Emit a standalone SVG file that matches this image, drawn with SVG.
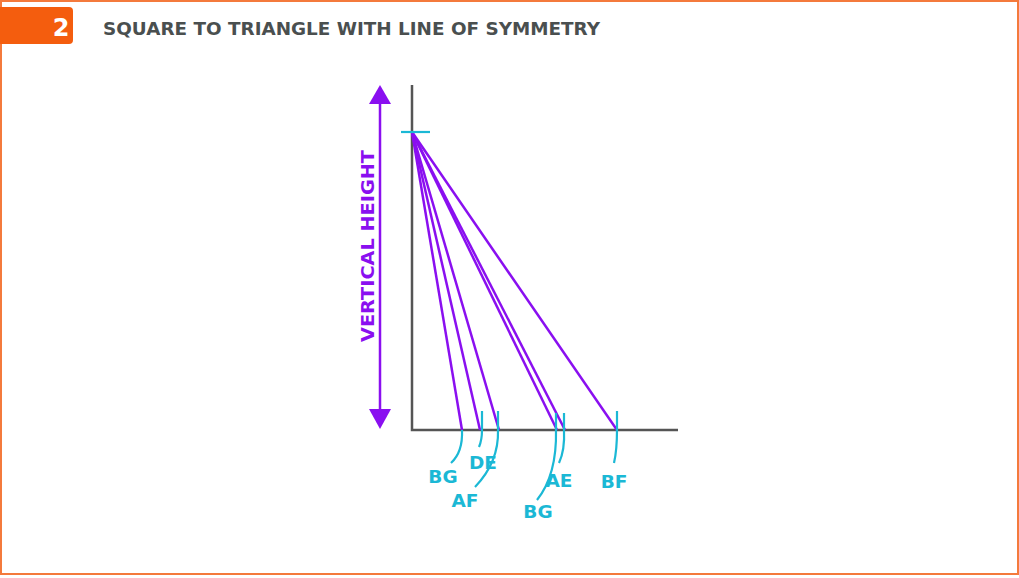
<svg xmlns="http://www.w3.org/2000/svg" width="1019" height="578" viewBox="0 0 1019 578">
<style>
.lbl{font-family:"DejaVu Sans","Liberation Sans",sans-serif;font-weight:bold;font-size:18.5px;fill:#1bb8d5;text-anchor:middle}
.cy{stroke:#1bb8d5;stroke-width:2.2;fill:none}
.pu{stroke:#8a0ff0;stroke-width:2.5;fill:none}
</style>
<rect x="1" y="1" width="1017" height="573" fill="#fff" stroke="#f47a3c" stroke-width="2"/>
<g id="header">
<path d="M0,7 H69 a4,4 0 0 1 4,4 V40 a4,4 0 0 1 -4,4 H0 z" fill="#f45d0e"/>
<text x="61" y="36" font-family="'DejaVu Sans','Liberation Sans',sans-serif" font-weight="bold" font-size="24" fill="#fff" text-anchor="middle">2</text>
<text x="103" y="35" font-family="'DejaVu Sans','Liberation Sans',sans-serif" font-weight="bold" font-size="17.5" fill="#4a4f4f" textLength="497" lengthAdjust="spacingAndGlyphs">SQUARE TO TRIANGLE WITH LINE OF SYMMETRY</text>
</g>
<g id="axes" stroke="#555" stroke-width="2.5" fill="none">
<path d="M412,85 V430 H678"/>
</g>
<g id="height-arrow">
<line x1="380" y1="104" x2="380" y2="410" stroke="#8a0ff0" stroke-width="2.5"/>
<path d="M369,104 L380,85 L391,104 z" fill="#8a0ff0"/>
<path d="M369,409 L380,429 L391,409 z" fill="#8a0ff0"/>
<text transform="translate(374,246) rotate(-90)" font-family="'DejaVu Sans','Liberation Sans',sans-serif" font-weight="bold" font-size="18" fill="#8a0ff0" text-anchor="middle" textLength="192" lengthAdjust="spacingAndGlyphs">VERTICAL HEIGHT</text>
</g>
<g id="connectors">
<line class="pu" x1="412" y1="132" x2="462" y2="430"/>
<line class="pu" x1="412" y1="132" x2="480" y2="430"/>
<line class="pu" x1="412" y1="132" x2="499" y2="430"/>
<line class="pu" x1="412" y1="132" x2="557" y2="430"/>
<line class="pu" x1="412" y1="132" x2="565" y2="430"/>
<line class="pu" x1="412" y1="132" x2="617" y2="430"/>
</g>
<g id="ticks">
<line class="cy" x1="401" y1="132" x2="430" y2="132"/>
<path class="cy" d="M482,411 V430 Q482,440 479,447"/>
<path class="cy" d="M498,411 V430 Q499,462 475,487"/>
<path class="cy" d="M462,430 Q463,452 451,463"/>
<path class="cy" d="M556,413 V430 Q557,475 537,500"/>
<path class="cy" d="M564,413 V430 Q565,450 559,463"/>
<path class="cy" d="M617,411 V430 Q617,450 614,463"/>
</g>
<g id="labels">
<text class="lbl" x="443" y="483">BG</text>
<text class="lbl" x="483" y="469">DE</text>
<text class="lbl" x="465" y="507">AF</text>
<text class="lbl" x="559" y="487">AE</text>
<text class="lbl" x="538" y="518">BG</text>
<text class="lbl" x="614" y="488">BF</text>
</g>
</svg>
